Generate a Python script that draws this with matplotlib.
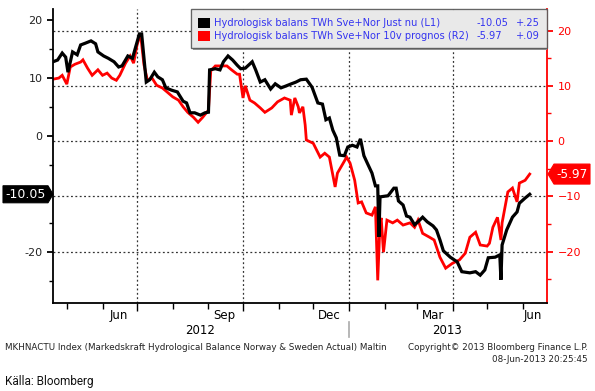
import matplotlib

matplotlib.use("Agg")
import matplotlib.pyplot as plt
import matplotlib.dates as mdates
from matplotlib.patches import Rectangle, Polygon
import pandas as pd

W, H = 595, 391

black_dates = ["2012-04-19", "2012-04-23", "2012-04-27", "2012-04-30", "2012-05-02", "2012-05-06",
               "2012-05-10", "2012-05-13", "2012-05-17", "2012-05-22", "2012-05-26", "2012-05-28",
               "2012-06-02", "2012-06-06", "2012-06-11", "2012-06-15", "2012-06-18", "2012-06-23",
               "2012-06-27", "2012-07-01", "2012-07-03", "2012-07-05", "2012-07-09", "2012-07-12",
               "2012-07-16", "2012-07-19", "2012-07-23", "2012-07-26", "2012-07-31", "2012-08-05",
               "2012-08-10", "2012-08-13", "2012-08-16", "2012-08-20", "2012-08-25", "2012-08-29",
               "2012-09-01", "2012-09-02", "2012-09-07", "2012-09-11", "2012-09-14", "2012-09-18",
               "2012-09-22", "2012-09-26", "2012-09-29", "2012-10-03", "2012-10-09", "2012-10-12",
               "2012-10-16", "2012-10-20", "2012-10-25", "2012-10-29", "2012-11-03", "2012-11-07",
               "2012-11-12", "2012-11-16", "2012-11-20", "2012-11-25", "2012-11-30", "2012-12-05",
               "2012-12-09", "2012-12-12", "2012-12-15", "2012-12-18", "2012-12-21", "2012-12-24",
               "2012-12-28", "2012-12-31", "2013-01-04", "2013-01-08", "2013-01-11", "2013-01-14",
               "2013-01-17", "2013-01-21", "2013-01-24", "2013-01-26", "2013-01-27", "2013-01-28",
               "2013-02-04", "2013-02-09", "2013-02-11", "2013-02-13", "2013-02-17", "2013-02-20",
               "2013-02-23", "2013-02-27", "2013-03-02", "2013-03-06", "2013-03-10", "2013-03-15",
               "2013-03-18", "2013-03-21", "2013-03-24", "2013-03-30", "2013-04-05", "2013-04-09",
               "2013-04-16", "2013-04-21", "2013-04-25", "2013-04-29", "2013-05-02", "2013-05-08",
               "2013-05-12", "2013-05-13", "2013-05-14", "2013-05-18", "2013-05-23", "2013-05-27",
               "2013-05-29", "2013-06-03", "2013-06-07"]
black_values = [12.8, 13.1, 14.3, 13.6, 11.0, 14.5, 14.0, 15.7, 16.0, 16.4, 15.9, 14.5,
                13.8, 13.4, 12.8, 11.9, 12.1, 13.8, 13.4, 16.2, 17.6, 17.6, 9.3, 9.7,
                11.0, 10.2, 9.7, 8.3, 7.9, 7.6, 6.0, 5.7, 4.0, 4.0, 3.6, 4.0,
                4.1, 11.4, 11.6, 11.4, 12.8, 13.8, 13.1, 12.2, 11.6, 11.7, 12.8, 11.4,
                9.3, 9.7, 8.1, 9.0, 8.3, 8.6, 9.0, 9.3, 9.7, 9.8, 8.4, 5.7,
                5.5, 2.8, 3.1, 1.0, -0.3, -3.3, -3.4, -1.9, -1.6, -1.9, -0.5, -3.4,
                -4.7, -6.4, -8.6, -8.6, -17.4, -10.5, -10.3, -9.0, -9.0, -11.2, -11.9, -13.8,
                -14.0, -15.3, -14.8, -14.0, -14.8, -15.5, -16.2, -17.9, -19.8, -20.9, -21.7, -23.4,
                -23.6, -23.4, -24.0, -23.1, -21.0, -20.9, -20.5, -24.8, -18.8, -16.2, -14.0, -13.1,
                -11.6, -10.7, -10.05]

red_dates = ["2012-04-19", "2012-04-24", "2012-04-27", "2012-05-01", "2012-05-04", "2012-05-08",
             "2012-05-13", "2012-05-15", "2012-05-19", "2012-05-23", "2012-05-28", "2012-06-01",
             "2012-06-05", "2012-06-09", "2012-06-13", "2012-06-16", "2012-06-21", "2012-06-25",
             "2012-06-28", "2012-07-01", "2012-07-04", "2012-07-07", "2012-07-10", "2012-07-14",
             "2012-07-18", "2012-07-23", "2012-07-27", "2012-08-01", "2012-08-06", "2012-08-10",
             "2012-08-14", "2012-08-19", "2012-08-23", "2012-08-27", "2012-09-01", "2012-09-03",
             "2012-09-07", "2012-09-13", "2012-09-17", "2012-09-21", "2012-09-26", "2012-09-28",
             "2012-10-01", "2012-10-03", "2012-10-07", "2012-10-11", "2012-10-16", "2012-10-20",
             "2012-10-26", "2012-10-31", "2012-11-06", "2012-11-11", "2012-11-12", "2012-11-15",
             "2012-11-18", "2012-11-19", "2012-11-22", "2012-11-24", "2012-11-25", "2012-12-01",
             "2012-12-07", "2012-12-11", "2012-12-15", "2012-12-20", "2012-12-22", "2012-12-27",
             "2012-12-30", "2013-01-02", "2013-01-06", "2013-01-09", "2013-01-12", "2013-01-16",
             "2013-01-21", "2013-01-24", "2013-01-26", "2013-01-28", "2013-01-29", "2013-01-31",
             "2013-02-03", "2013-02-08", "2013-02-12", "2013-02-17", "2013-02-23", "2013-02-27",
             "2013-03-02", "2013-03-06", "2013-03-12", "2013-03-16", "2013-03-21", "2013-03-26",
             "2013-04-01", "2013-04-07", "2013-04-12", "2013-04-16", "2013-04-21", "2013-04-25",
             "2013-05-01", "2013-05-03", "2013-05-06", "2013-05-10", "2013-05-13", "2013-05-14",
             "2013-05-19", "2013-05-23", "2013-05-27", "2013-05-29", "2013-06-03", "2013-06-07"]
red_values = [11.2, 11.4, 11.9, 10.3, 13.4, 13.9, 14.3, 14.7, 13.2, 11.9, 12.9, 11.9,
              12.3, 11.4, 11.0, 11.9, 14.1, 15.4, 14.1, 17.4, 19.4, 13.8, 11.0, 11.4,
              10.1, 9.6, 8.9, 8.0, 7.4, 6.2, 5.2, 4.3, 3.4, 4.3, 5.6, 12.7,
              13.6, 13.6, 13.6, 12.9, 12.1, 12.1, 7.8, 10.0, 7.4, 6.9, 6.0, 5.2,
              6.0, 7.1, 7.8, 7.4, 4.7, 7.8, 6.2, 5.1, 6.2, 2.9, 0.2, -0.4,
              -2.9, -2.2, -2.9, -8.3, -5.8, -4.0, -2.9, -4.0, -7.1, -11.2, -11.0, -13.0,
              -13.4, -11.9, -25.2, -14.8, -13.9, -20.1, -14.3, -14.8, -14.3, -15.2, -14.8, -15.6,
              -14.3, -16.7, -17.4, -17.9, -21.0, -23.0, -22.1, -21.5, -20.3, -17.4, -16.5, -18.8,
              -19.0, -18.5, -15.6, -13.8, -17.9, -14.8, -9.2, -8.5, -11.0, -7.6, -7.1, -5.97]

black_label = "Hydrologisk balans TWh Sve+Nor Just nu (L1)"
red_label = "Hydrologisk balans TWh Sve+Nor 10v prognos (R2)"
black_change = "+.25"
red_change = "+.09"
month_labels = [("2012-06-15", "Jun"), ("2012-09-15", "Sep"), ("2012-12-15", "Dec"),
                ("2013-03-15", "Mar"), ("2013-06-10", "Jun")]
year_labels = [("2012-08-25", "2012"), ("2013-03-27", "2013")]

bd = pd.to_datetime(black_dates)
rd = pd.to_datetime(red_dates)

RED = "#ff0000"
BLUE = "#3434f0"
plt.rcParams["font.family"] = "DejaVu Sans"

fig = plt.figure(figsize=(W / 100, H / 100), dpi=100)
ax = fig.add_axes([53 / W, 1 - 303 / H, 494 / W, 294 / H])
ax2 = ax.twinx()
# red series on the primary axes (right scale), black on the twin (left scale) so it sits on top
ax.yaxis.tick_right()
ax2.yaxis.tick_left()

ax.plot(rd, red_values, color=RED, lw=2.0, solid_joinstyle="miter")
ax2.plot(bd, black_values, color="black", lw=2.3, solid_joinstyle="miter")

ax.set_xlim(pd.Timestamp("2012-04-19"), pd.Timestamp("2013-06-22"))
ax.set_ylim(-29.3, 23.9)
ax2.set_ylim(-28.8, 21.9)

for a in (ax, ax2):
    for s in a.spines.values():
        s.set_visible(False)
ax.spines["right"].set_visible(True)
ax.spines["right"].set_color(RED)
ax.spines["right"].set_linewidth(1.3)
ax.spines["bottom"].set_visible(True)
ax.spines["bottom"].set_linewidth(1.3)
ax2.spines["left"].set_visible(True)
ax2.spines["left"].set_linewidth(1.3)

ax.set_yticks([-20, -10, 0, 10, 20])
ax.set_yticks([-25, -15, -5, 5, 15], minor=True)
ax2.set_yticks([-20, -10, 0, 10, 20])
ax2.set_yticks([-25, -15, -5, 5, 15], minor=True)
ax.tick_params(axis="y", which="both", colors=RED, labelcolor=RED, labelsize=8, direction="out")
ax.tick_params(axis="y", which="major", length=4, width=1.3)
ax.tick_params(axis="y", which="minor", length=3, width=1)
ax2.tick_params(axis="y", which="both", labelsize=8, labelcolor="#222222", direction="out")
ax2.tick_params(axis="y", which="major", length=4, width=1.3)
ax2.tick_params(axis="y", which="minor", length=3, width=1)
ax2.set_yticklabels(["-20", "", "0", "10", "20"])

ax.xaxis.set_major_locator(mdates.MonthLocator(bymonth=[1, 4, 7, 10]))
ax.xaxis.set_minor_locator(mdates.MonthLocator())
ax.xaxis.set_major_formatter(plt.NullFormatter())
ax.tick_params(axis="x", which="major", length=6, width=1, direction="out")
ax.tick_params(axis="x", which="minor", length=4, width=1, direction="out")

ax.grid(True, axis="x", which="major", color="#333333", linestyle=(0, (1.5, 2)), lw=0.9)
ax.grid(True, axis="y", which="major", color="#333333", linestyle=(0, (1.5, 2)), lw=0.9)
ax.set_axisbelow(True)

xlab = ax.get_xaxis_transform()
for d, t in month_labels:
    ax.text(pd.Timestamp(d), -0.041, t, transform=xlab, ha="center", va="center", fontsize=8.5)
for d, t in year_labels:
    ax.text(pd.Timestamp(d), -0.092, t, transform=xlab, ha="center", va="center", fontsize=8.5)
ax.plot([pd.Timestamp("2013-01-01")] * 2, [-0.065, -0.116], transform=xlab,
        color="#aaaaaa", lw=1.2, clip_on=False)


# last-value badges: a box with a short point towards the axis
def badge(axis, value, x_body0, x_body1, x_tip, half_h, color, fs):
    yb = axis.transData.transform((0, value))[1] / H
    if x_tip > x_body1:
        pts = [(x_body0, yb + half_h), (x_body1, yb + half_h), (x_tip, yb),
               (x_body1, yb - half_h), (x_body0, yb - half_h)]
    else:
        pts = [(x_body1, yb + half_h), (x_body0, yb + half_h), (x_tip, yb),
               (x_body0, yb - half_h), (x_body1, yb - half_h)]
    pts = [(px / W, py) for px, py in pts]
    fig.patches.append(Polygon(pts, closed=True, transform=fig.transFigure, fc=color, ec=color,
                               lw=0.8, zorder=20))
    fig.text((x_body0 + x_body1) / 2 / W, yb, f"{value:.2f}", ha="center", va="center",
             fontsize=fs, color="white", zorder=21)


badge(ax2, black_values[-1], 3, 48, 53, 8.5 / H, "black", 9)
badge(ax, red_values[-1], 554, 590, 548, 10 / H, RED, 8.7)

# legend box
lx0 = (191 - 53) / 494
ly0 = (303 - 48) / 294
ax2.add_patch(Rectangle((lx0 + 0.004, ly0 - 0.008), 1 - lx0 - 0.004, 1 - ly0, transform=ax2.transAxes,
                        fc="#9a9a9a", ec="none", zorder=8, clip_on=False))
ax2.add_patch(Rectangle((lx0, ly0), 1 - lx0, 1 - ly0, transform=ax2.transAxes,
                        fc="#f2f2f2", ec="#555555", lw=1, alpha=0.9, zorder=9, clip_on=False))
rows = [(black_label, black_values[-1], black_change, "black", 23),
        (red_label, red_values[-1], red_change, RED, 36)]
for label, last, chg, col, ypx in rows:
    yy = (303 - ypx) / 294
    ax2.add_patch(Rectangle(((198 - 53) / 494, yy - 5 / 294), 12 / 494, 10 / 294, transform=ax2.transAxes,
                            fc=col, ec="none", zorder=10, clip_on=False))
    ax2.text((214 - 53) / 494, yy, label, transform=ax2.transAxes, fontsize=7.1, color=BLUE,
             va="center", ha="left", zorder=11)
    ax2.text((477 - 53) / 494, yy, f"{last:.2f}", transform=ax2.transAxes, fontsize=7.1, color=BLUE,
             va="center", ha="left", zorder=11)
    ax2.text((540 - 53) / 494, yy, chg, transform=ax2.transAxes, fontsize=7.1, color=BLUE,
             va="center", ha="right", zorder=11)

fig.text(5 / W, 1 - 347 / H, "MKHNACTU Index (Markedskraft Hydrological Balance Norway & Sweden Actual) Maltin",
         fontsize=6.3, ha="left", va="center", color="#222222")
fig.text(588 / W, 1 - 347 / H, "Copyright\u00a9 2013 Bloomberg Finance L.P.", fontsize=6.3,
         ha="right", va="center", color="#222222")
fig.text(588 / W, 1 - 359 / H, "08-Jun-2013 20:25:45", fontsize=6.3, ha="right", va="center",
         color="#222222")
fig.text(5 / W, 1 - 381 / H, "Källa: Bloomberg", fontsize=8.5, ha="left", va="center",
         family="Roboto", color="#111111")

fig.savefig("out.png", dpi=100)
